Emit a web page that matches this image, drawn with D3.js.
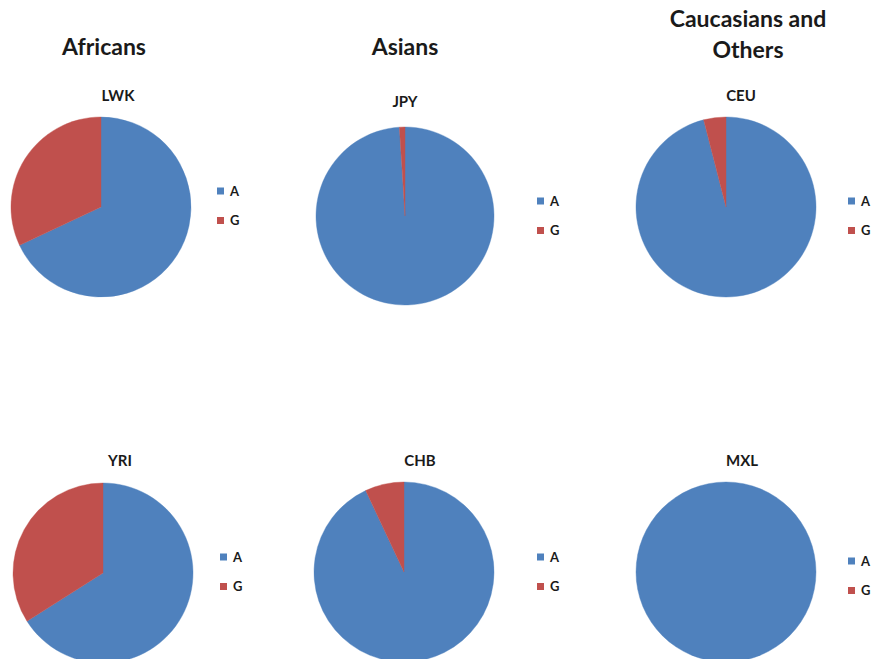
<!DOCTYPE html>
<html>
<head>
<meta charset="utf-8">
<script src="https://cdn.jsdelivr.net/npm/d3@7"></script>
<style>
  body { margin: 0; background: #fff; }
  text { font-family: Lato, "Open Sans", sans-serif; fill: #1a1a1a; }
</style>
</head>
<body>
<div id="wrapper"></div>
<script>
// data
const groupTitles = ["Africans", "Asians", "Caucasians and Others"]
const populations = ["LWK", "JPY", "CEU", "YRI", "CHB", "MXL"]
const alleles = ["A", "G"]
const freqA = [0.68, 0.99, 0.96, 0.66, 0.93, 1.0]
const freqG = [0.32, 0.01, 0.04, 0.34, 0.07, 0.0]
const colors = ["#4F81BD", "#C0504D"]

// layout of each small chart (pie centre, title, legend)
const layout = [
  { cx: 101, cy: 207, r: 90, tx: 118, ty: 101, lx: 217, ly: 191 },
  { cx: 405, cy: 216, r: 89, tx: 405, ty: 107, lx: 537, ly: 201 },
  { cx: 726, cy: 207, r: 90, tx: 741, ty: 101, lx: 848, ly: 201 },
  { cx: 103, cy: 573, r: 90, tx: 120, ty: 466, lx: 220, ly: 557 },
  { cx: 404, cy: 572, r: 90, tx: 420, ty: 466, lx: 537, ly: 557 },
  { cx: 726, cy: 572, r: 90, tx: 742, ty: 466, lx: 848, ly: 561 },
]

const width = 872
const height = 659

const svg = d3.select("#wrapper")
  .append("svg")
  .attr("width", width)
  .attr("height", height)

// group headings
const headings = [
  { x: 104, lines: [groupTitles[0]], y: 55 },
  { x: 405, lines: [groupTitles[1]], y: 55 },
  { x: 748, lines: ["Caucasians and", "Others"], y: 27 },
]
headings.forEach(h => {
  const t = svg.append("text")
    .attr("text-anchor", "middle")
    .attr("font-size", 23)
    .attr("font-weight", "bold")
  h.lines.forEach((l, i) => {
    t.append("tspan")
      .attr("x", h.x)
      .attr("y", h.y + i * 31)
      .text(l)
  })
})

const pie = d3.pie()
  .sort(null)
  .value(d => d.value)

populations.forEach((pop, i) => {
  const L = layout[i]
  const data = alleles.map((a, j) => ({
    allele: a,
    value: j === 0 ? freqA[i] : freqG[i]
  }))

  const arc = d3.arc()
    .innerRadius(0)
    .outerRadius(L.r)

  const g = svg.append("g")
    .attr("transform", `translate(${L.cx},${L.cy})`)

  g.selectAll("path")
    .data(pie(data).filter(d => d.value > 0))
    .join("path")
    .attr("d", arc)
    .attr("fill", d => colors[d.index])
    .attr("stroke", d => colors[d.index])
    .attr("stroke-width", 0.4)

  // chart title
  svg.append("text")
    .attr("x", L.tx)
    .attr("y", L.ty)
    .attr("text-anchor", "middle")
    .attr("font-size", 15)
    .attr("font-weight", "bold")
    .text(pop)

  // legend
  const legend = svg.append("g")
    .attr("transform", `translate(${L.lx},${L.ly})`)

  const item = legend.selectAll("g")
    .data(alleles)
    .join("g")
    .attr("transform", (d, j) => `translate(0,${j * 29.5})`)

  item.append("rect")
    .attr("x", 0)
    .attr("y", -3.5)
    .attr("width", 7)
    .attr("height", 7)
    .attr("fill", (d, j) => colors[j])

  item.append("text")
    .attr("x", 13)
    .attr("y", 4.5)
    .attr("font-size", 13)
    .attr("font-weight", "bold")
    .text(d => d)
})
</script>
</body>
</html>
